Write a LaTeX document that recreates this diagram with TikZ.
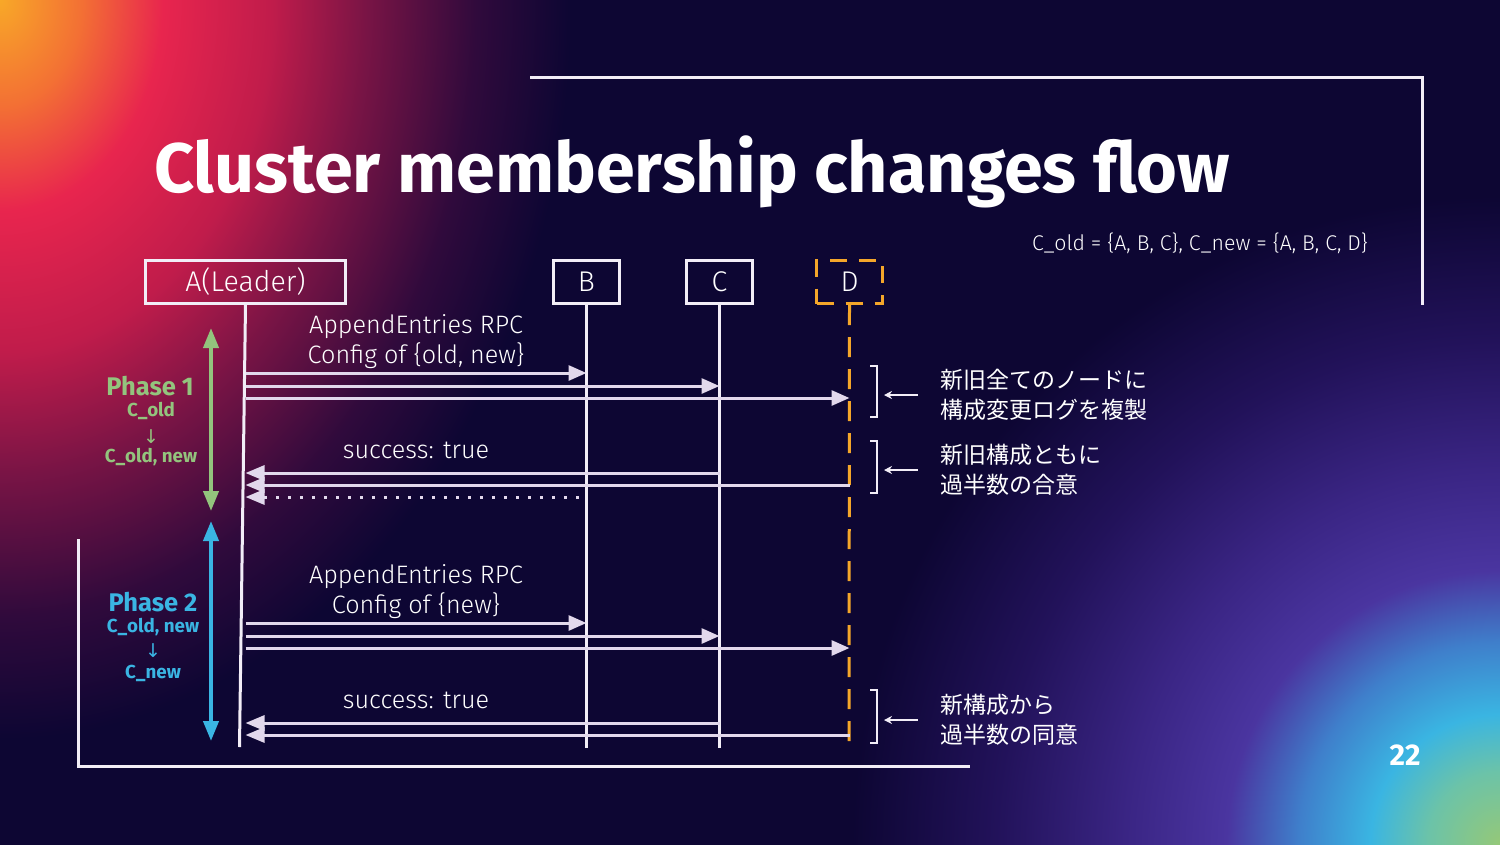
\documentclass[tikz,border=0pt]{standalone}
\usepackage{fontspec}
\setmainfont{Fira Sans}
\newfontfamily\lightf{Fira Sans Light}
\newfontfamily\jp{Noto Sans CJK JP}
\newfontfamily\dv{DejaVu Sans}
\usetikzlibrary{arrows.meta}
\definecolor{bg}{HTML}{0D0633}
\definecolor{ln}{HTML}{F2EDF7}
\definecolor{msgc}{HTML}{E2D8EC}
\definecolor{dor}{HTML}{F4A62A}
\definecolor{pg}{HTML}{93C47D}
\definecolor{pc}{HTML}{3AB5E3}
\definecolor{g1}{HTML}{F8A828}
\definecolor{g2}{HTML}{F37034}
\definecolor{g3}{HTML}{E8254E}
\definecolor{g4}{HTML}{C01C4B}
\definecolor{g5}{HTML}{781445}
\definecolor{g6}{HTML}{300A3C}
\definecolor{h1}{HTML}{95C878}
\definecolor{h2}{HTML}{6CC3A8}
\definecolor{h3}{HTML}{3AB5E2}
\definecolor{h4}{HTML}{3F7FCB}
\definecolor{h5}{HTML}{4A35A0}
\definecolor{h6}{HTML}{3A2584}
\definecolor{h7}{HTML}{22125A}
\pgfdeclareradialshading{tlglow}{\pgfpoint{0bp}{0bp}}{color(0bp)=(g1); color(3bp)=(g2); color(6bp)=(g3); color(10bp)=(g4); color(13.5bp)=(g5); color(17.5bp)=(g6); color(21bp)=(bg); color(25bp)=(bg); color(50bp)=(bg)}
\pgfdeclareradialshading{brglow}{\pgfpoint{0bp}{0bp}}{color(0bp)=(h1); color(2.5bp)=(h2); color(4.5bp)=(h3); color(7bp)=(h4); color(9.5bp)=(h5); color(13bp)=(h6); color(17.5bp)=(h7); color(22.5bp)=(bg); color(25bp)=(bg); color(50bp)=(bg)}
\tikzset{
  actor/.style={draw=ln, line width=3pt, minimum height=43pt, inner sep=0pt, text=white, font=\lightf\fontsize{28.5}{28.5}\selectfont},
  life/.style={draw=ln, line width=3pt},
  msg/.style={draw=msgc, line width=3pt},
  tipr/.style={-{Triangle[length=18pt,width=15pt]}},
  tipl/.style={{Triangle[length=19pt,width=15pt]}-},
  lbl/.style={text=white, font=\lightf\fontsize{25.2}{25.2}\selectfont, inner sep=0pt},
  frame/.style={draw=ln, line width=3pt, line join=miter},
  brk/.style={draw=ln, line width=2pt},
  sarr/.style={draw=ln, line width=1.6pt, -{Stealth[length=8pt,width=8pt]}},
  jpt/.style={text=white, font=\jp\fontsize{23}{30}\selectfont, align=left, anchor=west, inner sep=0pt},
  phh/.style={font=\bfseries\fontsize{25.5}{25.5}\selectfont, inner sep=0pt},
  phs/.style={font=\bfseries\fontsize{18.8}{18.8}\selectfont, inner sep=0pt},
  pha/.style={font=\dv\fontsize{19}{19}\selectfont, inner sep=0pt},
  phar/.style={line width=4pt, {Triangle[length=20pt,width=15pt]}-{Triangle[length=20pt,width=15pt]}}
}
\begin{document}
\begin{tikzpicture}[x=1pt,y=-1pt]
\useasboundingbox (0,0) rectangle (1500,844);
\fill[bg] (-6,-6) rectangle (1506,850);
\begin{scope}
\clip (-6,-6) rectangle (1506,850);
\shade[shading=tlglow] (0,0) ellipse [x radius=680, y radius=880];
\shade[shading=brglow] (1500,844) ellipse [x radius=720, y radius=720];
\end{scope}
% frames
\draw[frame] (530,77) -- (1422,77) -- (1422,305);
\draw[frame] (78,539) -- (78,766) -- (970,766);
% title
\node[anchor=base west, text=white, inner sep=0pt, font=\bfseries\fontsize{70}{70}\selectfont] (title) at (154,192) {Cluster membership changes flow};
\node[anchor=east, text=white, inner sep=0pt, font=\lightf\fontsize{21.3}{21.3}\selectfont] (sets) at (1368,243) {C\_old = \{A, B, C\}, C\_new = \{A, B, C, D\}};
% actors
\node[actor, minimum width=200pt] (a) at (245.5,282) {A(Leader)};
\node[actor, minimum width=66pt] (b) at (586.5,282) {B};
\node[actor, minimum width=66pt] (c) at (719.5,282) {C};
\node[actor, minimum width=66pt, draw=dor, dash pattern=on 17pt off 12pt, dash phase=0pt] (d) at (849.5,282) {D};
% lifelines
\coordinate (aend) at (239.5,747);
\coordinate (bend) at (586.5,748);
\coordinate (cend) at (719.5,748);
\coordinate (dend) at (849,742);
\draw[life] (a.south) -- (aend);
\draw[life] (b.south) -- (bend);
\draw[life] (c.south) -- (cend);
\draw[draw=dor, line width=3pt, dash pattern=on 20pt off 12pt] (d.south) -- (dend);
% phase 1 messages
\node[lbl] (l1) at (416,327) {AppendEntries RPC};
\node[lbl] (l2) at (416,356) {Config of \{old, new\}};
\draw[msg, tipr] (a.south |- 0,373) -- (b.south |- 0,373);
\draw[msg, tipr] (a.south |- 0,386) -- (c.south |- 0,386);
\draw[msg, tipr] (a.south |- 0,398) -- (d.south |- 0,398);
\node[lbl] (l3) at (416,450) {success: true};
\draw[msg, tipl] (a.south |- 0,473) -- (c.south |- 0,473);
\draw[msg, tipl] (a.south |- 0,485) -- (d.south |- 0,485);
\draw[msg, tipl, dash pattern=on 3pt off 9pt, shorten >=4pt] (a.south |- 0,497) -- (b.south |- 0,497);
% phase 2 messages
\node[lbl] (l4) at (416,577) {AppendEntries RPC};
\node[lbl] (l5) at (416,606) {Config of \{new\}};
\draw[msg, tipr] (a.south |- 0,623) -- (b.south |- 0,623);
\draw[msg, tipr] (a.south |- 0,636) -- (c.south |- 0,636);
\draw[msg, tipr] (a.south |- 0,648) -- (d.south |- 0,648);
\node[lbl] (l6) at (416,700) {success: true};
\draw[msg, tipl] (a.south |- 0,723) -- (c.south |- 0,723);
\draw[msg, tipl] (a.south |- 0,735) -- (d.south |- 0,735);
% phase arrows
\coordinate (p1t) at (211,328);
\coordinate (p1b) at (211,511);
\coordinate (p2t) at (211,521);
\coordinate (p2b) at (211,741);
\draw[phar, draw=pg, fill=pg] (p1t) -- (p1b);
\draw[phar, draw=pc, fill=pc] (p2t) -- (p2b);
\node[phh, text=pg] (ph1) at (150,386) {Phase 1};
\node[phs, text=pg] (ph1a) at (151,411) {C\_old};
\node[pha, text=pg] (ph1b) at (151,437) {↓};
\node[phs, text=pg] (ph1c) at (151,457) {C\_old, new};
\node[phh, text=pc] (ph2) at (153,602) {Phase 2};
\node[phs, text=pc] (ph2a) at (153,627) {C\_old, new};
\node[pha, text=pc] (ph2b) at (153,651) {↓};
\node[phs, text=pc] (ph2c) at (153,673) {C\_new};
% brackets and notes
\draw[brk] (870,366) -- (877,366) -- (877,417) -- (870,417);
\draw[brk] (870,441) -- (877,441) -- (877,493) -- (870,493);
\draw[brk] (870,690) -- (877,690) -- (877,743) -- (870,743);
\node[jpt] (j1) at (940,395) {新旧全てのノードに\\構成変更ログを複製};
\node[jpt] (j2) at (940,470) {新旧構成ともに\\過半数の合意};
\node[jpt] (j3) at (940,720) {新構成から\\過半数の同意};
\coordinate (s1) at (918,395);
\coordinate (s2) at (918,470);
\coordinate (s3) at (918,720);
\draw[sarr] (s1) -- (884,395);
\draw[sarr] (s2) -- (884,470);
\draw[sarr] (s3) -- (884,720);
% page number
\node[text=white, inner sep=0pt, font=\bfseries\fontsize{30}{30}\selectfont] (pn) at (1405,755) {22};
\end{tikzpicture}
\end{document}
